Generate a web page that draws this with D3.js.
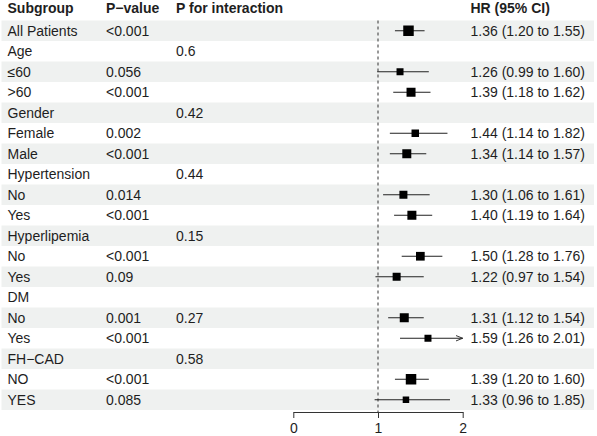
<!DOCTYPE html>
<html><head><meta charset="utf-8">
<script src="https://cdn.jsdelivr.net/npm/d3@7"></script>
<style>body{margin:0;background:#fff}svg{display:block}text{font-family:"Liberation Sans",Arial,sans-serif}</style>
</head><body>
<svg id="c" width="597" height="436"></svg>
<script>
const subgroups = ["All Patients","Age","≤60",">60","Gender","Female","Male","Hypertension","No","Yes","Hyperlipemia","No","Yes","DM","No","Yes","FH−CAD","NO","YES"];
const pValues   = ["<0.001","","0.056","<0.001","","0.002","<0.001","","0.014","<0.001","","<0.001","0.09","","0.001","<0.001","","<0.001","0.085"];
const pInteract = ["","0.6","","","0.42","","","0.44","","","0.15","","","","0.27","","0.58","",""];
const hr    = [1.36,null,1.26,1.39,null,1.44,1.34,null,1.30,1.40,null,1.50,1.22,null,1.31,1.59,null,1.39,1.33];
const lower = [1.20,null,0.99,1.18,null,1.14,1.14,null,1.06,1.19,null,1.28,0.97,null,1.12,1.26,null,1.20,0.96];
const upper = [1.55,null,1.60,1.62,null,1.82,1.57,null,1.61,1.64,null,1.76,1.54,null,1.54,2.01,null,1.60,1.85];
const weights = [10.5,null,7,9,null,7.5,9,null,8,9,null,8.7,8,null,9,7,null,10.5,6.5];
const xTicks = [0,1,2];
const headers = ["Subgroup","P−value","P for interaction","HR (95% CI)"];

const svg = d3.select("#c");
const W = 597;
const y = d3.scaleBand().domain(d3.range(subgroups.length)).range([20.5, 410]).padding(0);
const x = d3.scaleLinear().domain([0,2]).range([293.3, 462.7]);
const sz = d3.scaleLinear().domain([0,10]).range([0,10]);
const f2 = d3.format(".2f");
const textCol = "#1e1e1e";
const colX = [7.5, 106, 176, 470.5];

// row shading
svg.append("g").selectAll("rect").data(subgroups).join("rect")
  .attr("x", 1.5).attr("width", W-4.5)
  .attr("y", (d,i)=>y(i)).attr("height", y.bandwidth())
  .attr("fill", (d,i)=> i%2===0 ? "#eff1f0" : "#ffffff");

// headers
svg.append("g").selectAll("text").data(headers).join("text")
  .attr("x",(d,i)=>colX[i]).attr("y",8).attr("dy","0.35em")
  .attr("font-size",14).attr("font-weight","bold").attr("fill",textCol)
  .text(d=>d);

// columns
const rowG = svg.append("g");
function col(arr, xi){
  rowG.append("g").selectAll("text").data(arr).join("text")
    .attr("x",colX[xi]).attr("y",(d,i)=>y(i)+y.bandwidth()/2).attr("dy","0.35em")
    .attr("font-size",14).attr("fill",textCol).text(d=>d);
}
col(subgroups,0); col(pValues,1); col(pInteract,2);
col(hr.map((h,i)=> h==null ? "" : `${f2(h)} (${f2(lower[i])} to ${f2(upper[i])})`),3);

// reference dashed line
svg.append("line").attr("x1",x(1)).attr("x2",x(1)).attr("y1",y(0)).attr("y2",412)
  .attr("stroke","#333").attr("stroke-width",1).attr("stroke-dasharray","3,3");

// CIs
const idx = d3.range(hr.length).filter(i=>hr[i]!=null);
const [xmin,xmax] = x.domain();
svg.append("defs").append("marker").attr("id","arr").attr("viewBox","0 0 10 10")
  .attr("refX",10).attr("refY",5).attr("markerWidth",7).attr("markerHeight",7)
  .attr("markerUnits","userSpaceOnUse").attr("orient","auto")
  .append("path").attr("d","M0,1 L10,5 L0,9").attr("fill","none").attr("stroke","#222").attr("stroke-width",1.3);
svg.append("g").selectAll("line").data(idx).join("line")
  .attr("x1",i=>x(Math.max(lower[i],xmin))).attr("x2",i=>x(Math.min(upper[i],xmax)))
  .attr("y1",i=>y(i)+y.bandwidth()/2).attr("y2",i=>y(i)+y.bandwidth()/2)
  .attr("stroke","#222").attr("stroke-width",1)
  .attr("marker-end",i=>upper[i]>xmax?"url(#arr)":null);
svg.append("g").selectAll("rect").data(idx).join("rect")
  .attr("x",i=>x(hr[i])-sz(weights[i])/2).attr("y",i=>y(i)+y.bandwidth()/2-sz(weights[i])/2)
  .attr("width",i=>sz(weights[i])).attr("height",i=>sz(weights[i]))
  .attr("fill","#000");

// axis
const ax = svg.append("g").attr("transform","translate(0,412)")
  .call(d3.axisBottom(x).tickValues(xTicks).tickFormat(d3.format("d")).tickSize(6).tickSizeOuter(0));
ax.select(".domain").attr("stroke","#333");
ax.selectAll(".tick line").attr("stroke","#333");
ax.selectAll(".tick text").attr("font-size",14).attr("fill",textCol)
  .attr("font-family","Liberation Sans, Arial, sans-serif").attr("y",11);
</script>
</body></html>
